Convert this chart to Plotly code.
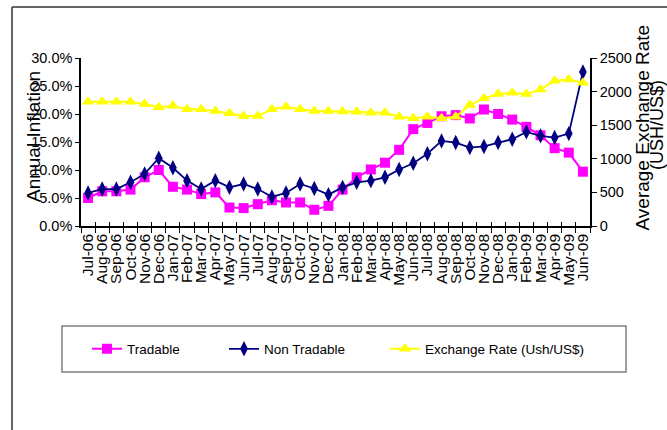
import plotly.graph_objects as go

# Monthly observations, Jul-06 to Jun-09
months = ["Jul-06", "Aug-06", "Sep-06", "Oct-06", "Nov-06", "Dec-06",
          "Jan-07", "Feb-07", "Mar-07", "Apr-07", "May-07", "Jun-07",
          "Jul-07", "Aug-07", "Sep-07", "Oct-07", "Nov-07", "Dec-07",
          "Jan-08", "Feb-08", "Mar-08", "Apr-08", "May-08", "Jun-08",
          "Jul-08", "Aug-08", "Sep-08", "Oct-08", "Nov-08", "Dec-08",
          "Jan-09", "Feb-09", "Mar-09", "Apr-09", "May-09", "Jun-09"]

# Annual inflation, %
tradable = [5.0, 6.2, 6.2, 6.5, 8.7, 10.0, 7.0, 6.5, 5.7, 6.0, 3.3, 3.2,
            3.9, 4.6, 4.2, 4.2, 2.9, 3.6, 6.5, 8.7, 10.1, 11.3, 13.6, 17.3,
            18.4, 19.6, 19.8, 19.2, 20.8, 20.0, 19.0, 17.7, 16.2, 13.9, 13.1, 9.7]
non_tradable = [5.9, 6.6, 6.6, 7.8, 9.3, 12.1, 10.4, 8.1, 6.6, 8.1, 6.9, 7.5,
                6.6, 5.2, 5.9, 7.5, 6.7, 5.6, 6.9, 7.8, 8.1, 8.7, 10.1, 11.2,
                12.9, 15.2, 14.9, 14.0, 14.2, 14.9, 15.5, 16.8, 16.1, 15.8, 16.5, 27.5]

# Average exchange rate, USh per US$
exchange_rate = [1849, 1849, 1849, 1849, 1815, 1766, 1790, 1736, 1736, 1711, 1677, 1637,
                 1637, 1736, 1775, 1736, 1711, 1711, 1705, 1701, 1686, 1686, 1627,
                 1603, 1627, 1603, 1627, 1800, 1900, 1963, 1983, 1963, 2033, 2161, 2181, 2131]

FONT = "Liberation Sans, Arial, sans-serif"

# plot area in pixels: x 81..590, y 58..226
W, H = 667, 430
L, R, T, B = 81, 77, 58, 204
pw, ph = W - L - R, H - T - B


def px(x):
    return (x - L) / pw


def py(y):
    return (H - B - y) / ph


fig = go.Figure()

fig.add_trace(go.Scatter(
    x=months, y=tradable, name="Tradable", mode="lines+markers",
    legend="legend",
    line=dict(color="#FF00FF", width=2),
    marker=dict(symbol="square", size=10, color="#FF00FF"),
))
fig.add_trace(go.Scatter(
    x=months, y=non_tradable, name="Non Tradable", mode="lines+markers",
    legend="legend2",
    line=dict(color="#000080", width=1.8),
    marker=dict(symbol="diamond-tall", size=11, color="#000080"),
))
fig.add_trace(go.Scatter(
    x=months, y=exchange_rate, name="Exchange Rate (Ush/US$)", mode="lines+markers",
    xaxis="x2", yaxis="y2", legend="legend3",
    line=dict(color="#FFFF00", width=2),
    marker=dict(symbol="triangle-up", size=11, color="#FFFF00"),
))


def legend_at(xpix):
    return dict(
        orientation="h", x=px(xpix), xanchor="left", y=py(349), yanchor="middle",
        bgcolor="rgba(0,0,0,0)", borderwidth=0,
        font=dict(size=13.5, family=FONT, color="black"),
        itemclick=False, itemdoubleclick=False,
    )


axis_common = dict(showgrid=False, zeroline=False)

fig.update_layout(
    width=W, height=H,
    margin=dict(l=L, r=R, t=T, b=B),
    paper_bgcolor="white", plot_bgcolor="white",
    font=dict(family=FONT, color="black"),
    showlegend=True,
    legend=legend_at(87),
    legend2=legend_at(224),
    legend3=legend_at(385),
    xaxis=dict(
        type="category", showline=True, linecolor="black", linewidth=1.5,
        ticks="outside", ticklen=5, tickcolor="black", tickwidth=1,
        tickson="boundaries", tickangle=-90, tickmode="linear", dtick=1,
        tickfont=dict(size=15.5, family=FONT, color="black"),
        range=[-0.5, 35.5], **axis_common,
    ),
    # second category axis: same months, carries the inner half of the cross ticks
    xaxis2=dict(
        type="category", overlaying="x", anchor="y", side="bottom",
        ticks="inside", ticklen=4, tickcolor="black", tickwidth=1,
        tickson="boundaries", tickmode="linear", dtick=1,
        showticklabels=False, showline=False,
        range=[-0.5, 35.5], **axis_common,
    ),
    yaxis=dict(
        range=[0, 30], dtick=5, tickformat=".1f", ticksuffix="%",
        showline=True, linecolor="black", linewidth=1.5,
        ticks="outside", ticklen=4, tickcolor="black",
        tickfont=dict(size=14.5, family=FONT, color="black"),
        **axis_common,
    ),
    yaxis2=dict(
        range=[0, 2500], dtick=500, overlaying="y", side="right", anchor="x2",
        showline=True, linecolor="black", linewidth=1.5,
        ticks="outside", ticklen=5, tickcolor="black",
        tickfont=dict(size=14.5, family=FONT, color="black"),
        **axis_common,
    ),
)

# Axis titles
fig.add_annotation(text="Annual Inflation", xref="paper", yref="paper",
                   x=px(33), y=py(137), textangle=-90, showarrow=False,
                   xanchor="center", yanchor="middle",
                   font=dict(size=19, family=FONT, color="black"))
fig.add_annotation(text="Average Exchange Rate", xref="paper", yref="paper",
                   x=px(642), y=py(127.5), textangle=-90, showarrow=False,
                   xanchor="center", yanchor="middle",
                   font=dict(size=19, family=FONT, color="black"))
fig.add_annotation(text="(USH/US$)", xref="paper", yref="paper",
                   x=px(657), y=py(125), textangle=-90, showarrow=False,
                   xanchor="center", yanchor="middle",
                   font=dict(size=18, family=FONT, color="black"))

# Chart frame (top and left edges) and legend box
fig.add_shape(type="line", xref="paper", yref="paper",
              x0=px(12), x1=px(667), y0=py(7), y1=py(7),
              line=dict(color="#333333", width=1.5))
fig.add_shape(type="line", xref="paper", yref="paper",
              x0=px(12), x1=px(12), y0=py(7), y1=py(430),
              line=dict(color="#333333", width=1.5))
fig.add_shape(type="rect", xref="paper", yref="paper",
              x0=px(62), x1=px(626), y0=py(326), y1=py(372),
              line=dict(color="#7f7f7f", width=1.5), fillcolor="rgba(0,0,0,0)")

fig.write_html("out.html")
